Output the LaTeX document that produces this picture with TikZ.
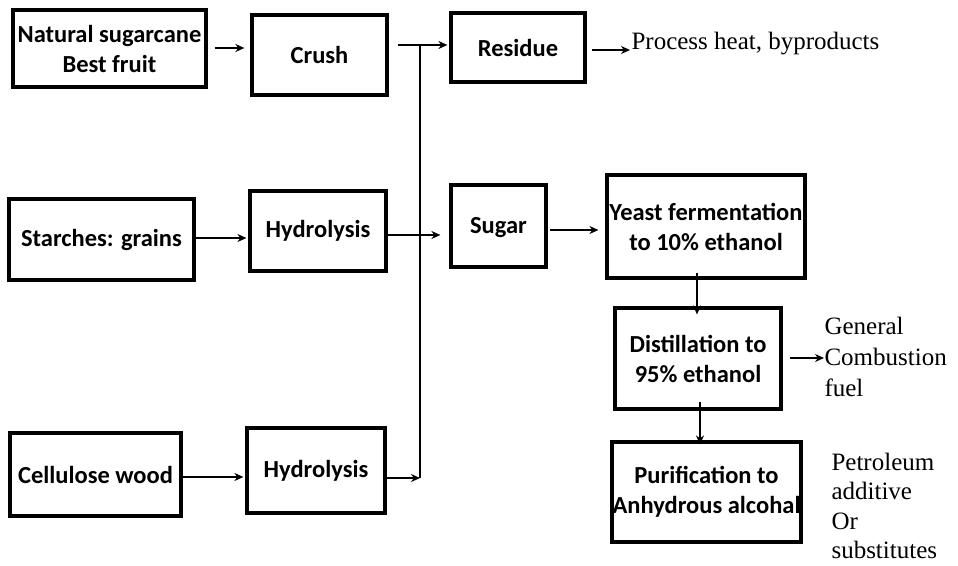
\documentclass[tikz,border=0pt]{standalone}
\usepackage{fontspec}
\setmainfont{Carlito}
\newfontfamily\labelfont{Liberation Serif}
\usetikzlibrary{arrows.meta}
\begin{document}
\begin{tikzpicture}[x=1pt,y=-1pt,
  box/.style={draw, line width=3.2pt, align=center, inner sep=0pt,
    font=\fontsize{24.5}{30}\selectfont\bfseries},
  flow/.style={line width=2.8pt, -{Stealth[length=9pt,width=8pt]}},
  bus/.style={line width=2.8pt},
  note/.style={align=left, anchor=west, font=\labelfont\fontsize{25}{31}\selectfont}]
\useasboundingbox (0,0) rectangle (958,565);

% process boxes
\node[box, minimum width=193pt, minimum height=77pt] (cane) at (109.5,48.5) {Natural sugarcane\\Best fruit};
\node[box, minimum width=135pt, minimum height=80pt] (crush) at (319.5,55) {Crush};
\node[box, minimum width=134pt, minimum height=69pt] (residue) at (518,47.5) {Residue};
\node[box, minimum width=185pt, minimum height=81pt] (starch) at (101.5,239.5) {Starches: grains};
\node[box, minimum width=136pt, minimum height=80pt] (hyd1) at (318,231) {Hydrolysis};
\node[box, minimum width=95pt, minimum height=82pt, text depth=2pt] (sugar) at (498.5,226) {Sugar};
\node[box, minimum width=198pt, minimum height=103pt] (yeast) at (706,226.5) {Yeast fermentation\\to 10\% ethanol};
\node[box, minimum width=166pt, minimum height=101pt] (distil) at (698,358.5) {Distillation to\\95\% ethanol};
\node[box, minimum width=189pt, minimum height=100pt] (purify) at (706.5,492) {Purification to\\Anhydrous alcohal};
\node[box, minimum width=171pt, minimum height=83pt] (cell) at (95.5,474.5) {Cellulose wood};
\node[box, minimum width=138pt, minimum height=85pt] (hyd2) at (316,470.5) {Hydrolysis};

% end products
\node[note] (heat) at (628,44) {Process heat, byproducts};
\node[note] (fuel) at (821,357) {General\\Combustion\\fuel};
\node[note, font=\labelfont\fontsize{25}{29.5}\selectfont] (petro) at (828,506) {Petroleum\\additive\\Or\\substitutes};

% collecting bus between hydrolysis and residue/sugar
\coordinate (busTop) at (420,45);
\coordinate (busBot) at (420,478);
\draw[bus] (busTop) -- (busBot);
\draw[bus] ([xshift=9pt]crush.east |- busTop) -- (busTop);

% connectors
\draw[flow] ([xshift=7pt]cane.east |- 0,48) -- ([xshift=-6pt]crush.west |- 0,48);
\draw[flow] (busTop) -- ([xshift=-2pt]residue.west |- busTop);
\draw[flow] ([xshift=5pt]residue.east |- 0,50) -- ([xshift=2pt]heat.west |- 0,50);
\draw[flow] (starch.east |- 0,238) -- ([xshift=-2pt]hyd1.west |- 0,238);
\draw[flow] (hyd1.east |- 0,235) -- ([xshift=-9pt]sugar.west |- 0,235);
\draw[flow] (cell.east |- 0,477) -- ([xshift=-2pt]hyd2.west |- 0,477);
\draw[flow] (hyd2.east |- busBot) -- (busBot);
\draw[flow] ([xshift=2pt]sugar.east |- 0,230) -- ([xshift=-7pt]yeast.west |- 0,230);
\draw[flow] ([yshift=7pt]yeast.south -| 697,0) -- ([yshift=-8pt]distil.north -| 697,0);
\draw[flow] ([yshift=9pt]distil.south -| 700,0) -- ([yshift=-4pt]purify.north -| 700,0);
\draw[flow] ([xshift=7pt]distil.east |- 0,358) -- ([xshift=3pt]fuel.west |- 0,358);
\end{tikzpicture}
\end{document}
